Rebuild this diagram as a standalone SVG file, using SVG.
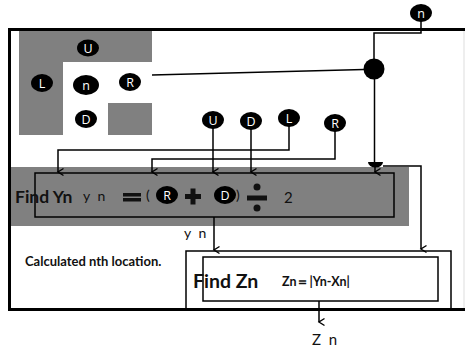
<svg xmlns="http://www.w3.org/2000/svg" width="465" height="350" viewBox="0 0 465 350">
<defs>
<marker id="ah" markerWidth="10" markerHeight="10" refX="5" refY="8" orient="auto-start-reverse" markerUnits="userSpaceOnUse" viewBox="0 0 10 10">
<path d="M1.5,2.5 L5,8 L8.5,2.5" fill="none" stroke="#000" stroke-width="1.4"/>
</marker>
<style>
.n ellipse{fill:#000}
.n text{fill:#fff;font-family:"Open Sans","Liberation Sans",sans-serif;font-size:12.5px;text-anchor:middle;dominant-baseline:central}
.c{fill:none;stroke:#000;stroke-width:1.5}
.a{marker-end:url(#ah)}
.t{font-family:Lato,"Liberation Sans",sans-serif;fill:#111}
.b{font-weight:bold}
.sp{letter-spacing:2px}
.grey{fill:#808080}
</style>
</defs>
<rect width="465" height="350" fill="#fff"/>
<!-- grey areas -->
<path class="grey" d="M19,31 H152 V62 H63 V135 H19 Z"/>
<rect class="grey" x="108" y="103" width="44" height="32"/>
<rect class="grey" x="10" y="167" width="399" height="59"/>
<!-- frame -->
<g id="frame" fill="none" stroke="#000">
<path d="M8,29.5 H465" stroke-width="3"/>
<path d="M9.5,28 V311" stroke-width="3"/>
<path d="M8,309.5 H465" stroke-width="3"/>
<path d="M464,31 V308" stroke="#ddd" stroke-width="1"/>
</g>
<!-- boxes -->
<g id="findYn">
<rect x="35" y="173" width="359" height="44" class="c"/>
<text class="t b" x="15" y="203" font-size="17.5">Find Yn</text>
<text class="t sp" x="83" y="201" font-size="14">y n</text>
<rect x="123" y="193" width="18" height="3.5" fill="#111"/>
<rect x="123" y="198" width="18" height="3.5" fill="#111"/>
<text class="t" x="146" y="200" font-size="14">(</text>
<g class="n"><ellipse cx="167" cy="195" rx="11" ry="9"/><text x="167" y="195">R</text></g>
<rect x="185" y="194" width="16" height="5" fill="#111"/>
<rect x="190.5" y="188.5" width="5" height="16" fill="#111"/>
<g class="n"><ellipse cx="225" cy="195" rx="11" ry="9"/><text x="225" y="195">D</text></g>
<text class="t" x="236" y="200" font-size="14">)</text>
<rect x="247" y="195.5" width="20" height="5" fill="#111"/>
<circle cx="257" cy="187" r="3.5" fill="#111"/>
<circle cx="257" cy="208" r="3.5" fill="#111"/>
<text class="t" x="284" y="203" font-size="15">2</text>
</g>
<g id="findZn">
<path d="M186,309 V251 H451 V309" class="c"/>
<rect x="203" y="257" width="235" height="44" class="c"/>
<text class="t b" x="193" y="288" font-size="19.5">Find Zn</text>
<text class="t b" x="282" y="286" font-size="12.5">Zn＝|Yn-Xn|</text>
</g>
<text class="t b" x="25" y="266" font-size="13">Calculated nth location.</text>
<text class="t sp" x="184" y="238" font-size="14">y n</text>
<text class="t sp" x="312" y="345" font-size="15">Z n</text>
<!-- connectors -->
<g id="connectors">
<path d="M152,75 L364,69.5" class="c"/>
<path d="M421,20 V33 H374 V60" class="c"/>
<path d="M374.5,78 V165" class="c"/>
<path d="M368,162 H383 A7.5,5.5 0 0 1 368,162 Z" fill="#000"/>
<path d="M375,165 V172" class="c a"/>
<path d="M383,166 H421 V249" class="c a"/>
<path d="M213,128 V172" class="c a"/>
<path d="M251,129 V172" class="c a"/>
<path d="M289,126 V150 H58 V172" class="c a"/>
<path d="M335,131 V159 H152 V172" class="c a"/>
<path d="M214,217 V250" class="c a"/>
<path d="M319,301 V322" class="c a"/>
<circle cx="374" cy="69" r="10.5" fill="#000"/>
</g>
<!-- nodes -->
<g id="nodeU1" class="n"><ellipse cx="88" cy="48" rx="11" ry="8.5"/><text x="88" y="48">U</text></g>
<g id="nodeL1" class="n"><ellipse cx="42" cy="83" rx="11" ry="9"/><text x="42" y="83">L</text></g>
<g id="nodeN1" class="n"><ellipse cx="86" cy="85" rx="13" ry="10"/><text x="86" y="85">n</text></g>
<g id="nodeR1" class="n"><ellipse cx="130" cy="82" rx="11" ry="9"/><text x="130" y="82">R</text></g>
<g id="nodeD1" class="n"><ellipse cx="86" cy="119" rx="11" ry="9"/><text x="86" y="119">D</text></g>
<g id="nodeN2" class="n"><ellipse cx="421" cy="13" rx="11" ry="9"/><text x="421" y="13">n</text></g>
<g id="nodeU2" class="n"><ellipse cx="213" cy="120" rx="11" ry="9"/><text x="213" y="120">U</text></g>
<g id="nodeD2" class="n"><ellipse cx="251" cy="121" rx="11" ry="9"/><text x="251" y="121">D</text></g>
<g id="nodeL2" class="n"><ellipse cx="289" cy="118" rx="11" ry="9"/><text x="289" y="118">L</text></g>
<g id="nodeR2" class="n"><ellipse cx="335" cy="123" rx="11" ry="9"/><text x="335" y="123">R</text></g>
</svg>
